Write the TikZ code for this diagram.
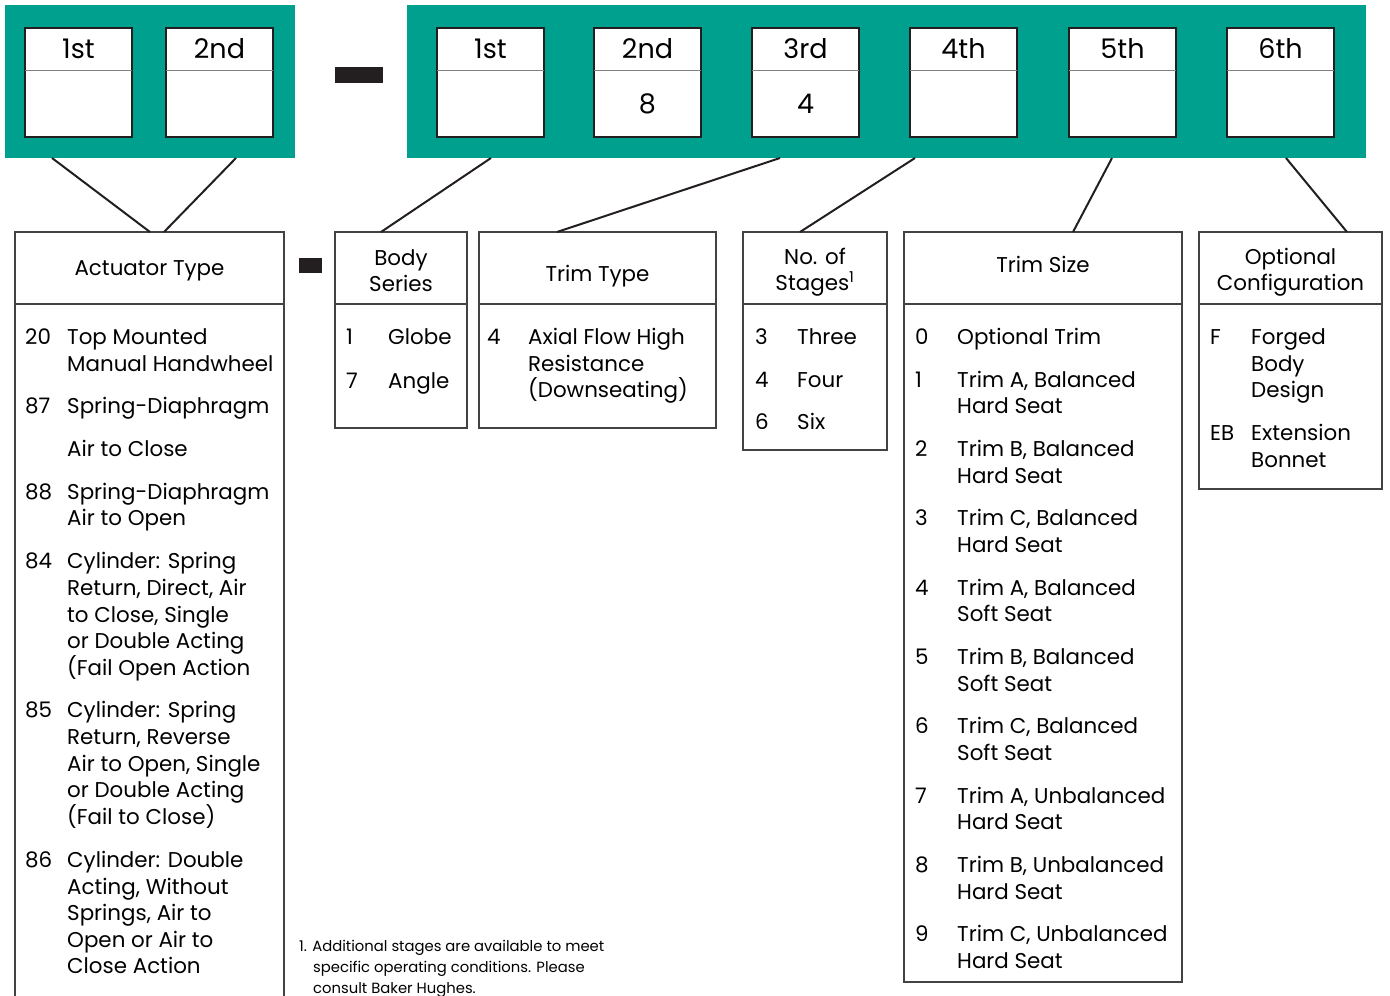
\documentclass[tikz,border=0pt]{standalone}
\usepackage{fontspec}
\setmainfont{Poppins}
\definecolor{bhteal}{RGB}{0,160,143}
\definecolor{ink}{RGB}{35,31,32}
\begin{document}
\begin{tikzpicture}[x=1pt,y=-1pt,
  band/.style={fill=bhteal,anchor=north west,inner sep=0pt,outer sep=0pt},
  digit/.style={draw=ink,line width=2.5pt,fill=white,minimum width=107pt,minimum height=109pt,anchor=north west,inner sep=0pt,outer sep=0pt},
  tbl/.style={draw=ink!85,line width=1.3pt,anchor=north west,inner sep=0pt,outer sep=0pt},
  hdr/.style={align=center,inner sep=0pt,font=\fontsize{21.4}{26}\selectfont},
  itm/.style={anchor=base west,inner sep=0pt,font=\fontsize{21.4}{26}\selectfont},
  conn/.style={draw=ink,line width=2pt}]
\useasboundingbox (0,0) rectangle (1390,996);

% code boxes
\node[band,minimum width=290pt,minimum height=153pt] (tealL) at (5,5) {};
\node[band,minimum width=959pt,minimum height=153pt] (tealR) at (407,5) {};
\foreach \n/\x/\t/\v in {L1/25/1st/,L2/166/2nd/,R1/437/1st/,R2/594/2nd/8,R3/752/3rd/4,R4/910/4th/,R5/1069/5th/,R6/1227/6th/}
{
  \node[digit] (\n) at (\x,28) {};
  \draw[gray,line width=1pt] ([yshift=-42pt]\n.north west) -- ([yshift=-42pt]\n.north east);
  \node[anchor=base,inner sep=0pt,font=\fontsize{27}{30}\selectfont] (\n-t) at ([yshift=-30pt]\n.north) {\t};
  \node[anchor=base,inner sep=0pt,font=\fontsize{27}{30}\selectfont] (\n-v) at ([yshift=-85pt]\n.north) {\v};
}
\fill[ink] (335,67) rectangle (383,83);

% tables
\node[tbl,minimum width=269pt,minimum height=770pt] (act) at (15,232) {};
\node[tbl,minimum width=132pt,minimum height=196pt] (body) at (335,232) {};
\node[tbl,minimum width=237pt,minimum height=196pt] (trim) at (479,232) {};
\node[tbl,minimum width=144pt,minimum height=218pt] (stages) at (743,232) {};
\node[tbl,minimum width=278pt,minimum height=750pt] (size) at (904,232) {};
\node[tbl,minimum width=183pt,minimum height=257pt] (opt) at (1199,232) {};
\foreach \n in {act,body,trim,stages,size,opt}
  \draw[ink!85,line width=1.3pt] ([yshift=-72pt]\n.north west) -- ([yshift=-72pt]\n.north east);
\fill[ink] (299,258) rectangle (322,273);

\node[hdr] (act-h) at ([yshift=-39pt]act.north) {Actuator Type};
\node[hdr] (body-h) at ([yshift=-39pt]body.north) {Body\\Series};
\node[hdr] (trim-h) at ([yshift=-44pt]trim.north) {Trim Type};
\node[hdr] (stages-h) at ([yshift=-40pt]stages.north) {No. of\\Stages\textsuperscript{1}};
\node[hdr] (size-h) at ([yshift=-32pt]size.north) {Trim Size};
\node[hdr] (opt-h) at ([yshift=-40pt]opt.north) {Optional\\Configuration};

% connectors
\draw[conn] ([xshift=47pt]tealL.south west) -- ([xshift=135pt]act.north west);
\draw[conn] ([xshift=231pt]tealL.south west) -- ([xshift=149pt]act.north west);
\draw[conn] ([xshift=84pt]tealR.south west) -- ([xshift=46pt]body.north west);
\draw[conn] ([xshift=373pt]tealR.south west) -- ([xshift=78pt]trim.north west);
\draw[conn] ([xshift=508pt]tealR.south west) -- ([xshift=57pt]stages.north west);
\draw[conn] ([xshift=705pt]tealR.south west) -- ([xshift=169pt]size.north west);
\draw[conn] ([xshift=879pt]tealR.south west) -- ([xshift=148pt]opt.north west);

% entries
\foreach \y/\n/\t in {344/20/Top Mounted, 371//Manual Handwheel, 413/87/Spring-Diaphragm,
  456//Air to Close, 499/88/Spring-Diaphragm, 525//Air to Open,
  568/84/{Cylinder: Spring}, 595//{Return, Direct, Air}, 622//{to Close, Single},
  648//or Double Acting, 675//{(Fail Open Action},
  717/85/{Cylinder: Spring}, 744//{Return, Reverse}, 771//{Air to Open, Single},
  797//or Double Acting, 824//{(Fail to Close)},
  867/86/{Cylinder: Double}, 894//{Acting, Without}, 920//{Springs, Air to},
  947//Open or Air to, 973//Close Action}
{
  \node[itm] (act-n\y) at (25,\y) {\n};
  \node[itm] (act-t\y) at (67,\y) {\t};
}
\foreach \y/\n/\t in {344/1/Globe, 388/7/Angle}
{
  \node[itm] (body-n\y) at (346,\y) {\n};
  \node[itm] (body-t\y) at (388,\y) {\t};
}
\foreach \y/\n/\t in {344/4/Axial Flow High, 371//Resistance, 397//(Downseating)}
{
  \node[itm] (trim-n\y) at (487,\y) {\n};
  \node[itm] (trim-t\y) at (528,\y) {\t};
}
\foreach \y/\n/\t in {344/3/Three, 387/4/Four, 429/6/Six}
{
  \node[itm] (stages-n\y) at (755,\y) {\n};
  \node[itm] (stages-t\y) at (797,\y) {\t};
}
\foreach \y/\n/\t in {344/0/Optional Trim, 387/1/{Trim A, Balanced}, 413//Hard Seat,
  456/2/{Trim B, Balanced}, 483//Hard Seat, 525/3/{Trim C, Balanced}, 552//Hard Seat,
  595/4/{Trim A, Balanced}, 621//Soft Seat, 664/5/{Trim B, Balanced}, 691//Soft Seat,
  733/6/{Trim C, Balanced}, 760//Soft Seat, 803/7/{Trim A, Unbalanced}, 829//Hard Seat,
  872/8/{Trim B, Unbalanced}, 899//Hard Seat, 941/9/{Trim C, Unbalanced}, 968//Hard Seat}
{
  \node[itm] (size-n\y) at (915,\y) {\n};
  \node[itm] (size-t\y) at (957,\y) {\t};
}
\foreach \y/\n/\t in {344/F/Forged, 371//Body, 397//Design, 440/EB/Extension, 467//Bonnet}
{
  \node[itm] (opt-n\y) at (1210,\y) {\n};
  \node[itm] (opt-t\y) at (1251,\y) {\t};
}

% footnote
\node[anchor=base west,inner sep=0pt,font=\fontsize{14.8}{21}\selectfont] (note1) at (299,951) {1. Additional stages are available to meet};
\node[anchor=base west,inner sep=0pt,font=\fontsize{14.8}{21}\selectfont] (note2) at (313,972) {specific operating conditions. Please};
\node[anchor=base west,inner sep=0pt,font=\fontsize{14.8}{21}\selectfont] (note3) at (313,993) {consult Baker Hughes.};
\end{tikzpicture}
\end{document}
